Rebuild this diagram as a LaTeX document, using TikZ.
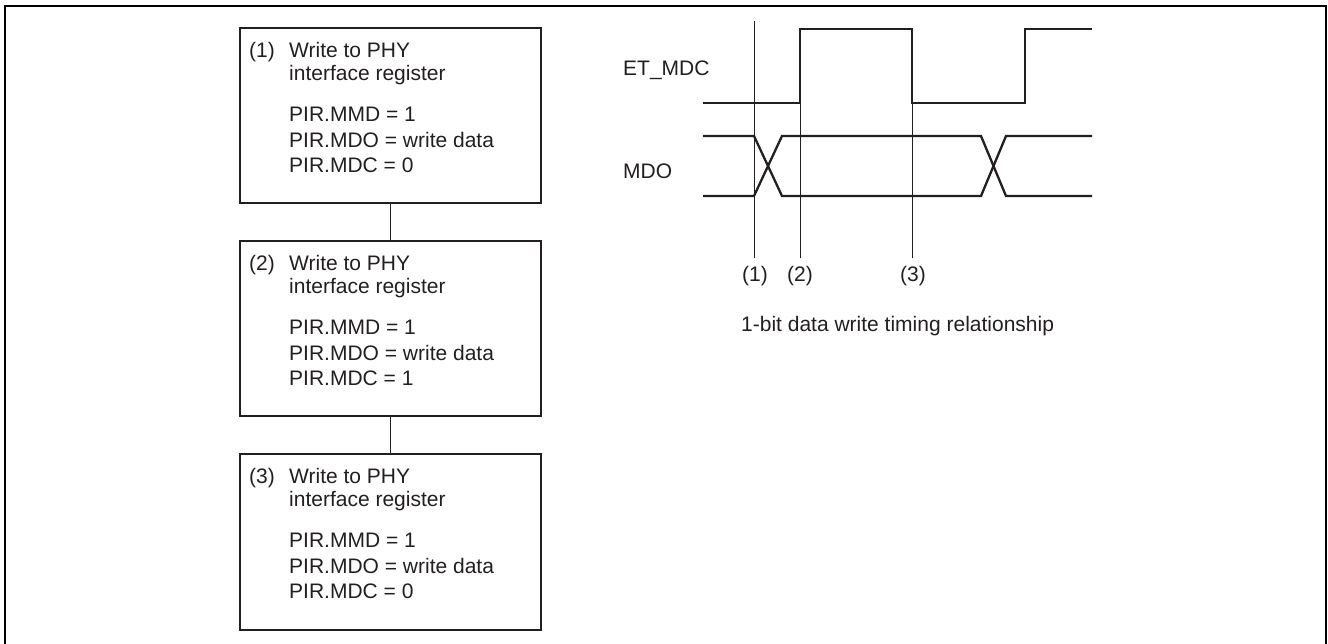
\documentclass[tikz,border=0pt]{standalone}
\usepackage{fontspec}
\setmainfont{Liberation Sans}
\definecolor{ink}{RGB}{35,31,32}
\tikzset{
  txt/.style={inner sep=0pt, anchor=base west, text=ink, font=\fontsize{21pt}{25pt}\selectfont},
  ctxt/.style={txt, anchor=base},
  stepbox/.style={draw=ink, line width=2.3pt, anchor=north west, minimum width=301pt, minimum height=175pt, inner sep=0pt},
  link/.style={draw=ink, line width=1pt},
  sig/.style={draw=ink, line width=2.3pt, line join=miter},
  guide/.style={draw=ink, line width=1pt},
  frame/.style={draw=black, line width=2pt}
}
\newcommand{\boxtext}[3]{%
  \node[txt] (n#1) at (249,#2+30) {(#1)};
  \node[txt] (w#1) at (289,#2+30) {Write to PHY};
  \node[txt] (i#1) at (289,#2+53) {interface register};
  \node[txt] (m#1) at (289,#2+94) {PIR.MMD = 1};
  \node[txt] (o#1) at (289,#2+120) {PIR.MDO = write data};
  \node[txt] (c#1) at (289,#2+145) {PIR.MDC = #3};
}
\begin{document}
\begin{tikzpicture}[x=1pt,y=-1pt]
\useasboundingbox (0,0) rectangle (1328,643);
% frame (open at the bottom)
\draw[frame] (5,660) -- (5,6) -- (1326,6) -- (1326,660);
% step boxes
\node[stepbox] (b1) at (239,27) {};
\node[stepbox] (b2) at (239,240) {};
\node[stepbox, minimum height=176pt] (b3) at (239,453) {};
\draw[link] (b1.south) -- (b2.north);
\draw[link] (b2.south) -- (b3.north);
\boxtext{1}{27}{0}
\boxtext{2}{240}{1}
\boxtext{3}{453}{0}
% timing diagram
\node[txt] (lmdc) at (623,75) {ET\_MDC};
\node[txt] (lmdo) at (623,178) {MDO};
\coordinate (g1t) at (754,21);
\coordinate (g1b) at (754,258);
\coordinate (g2t) at (800,103);
\coordinate (g2b) at (800,258);
\coordinate (g3t) at (912,29);
\coordinate (g3b) at (912,258);
\draw[guide] (g1t) -- (g1b);
\draw[guide] (g2t) -- (g2b);
\draw[guide] (g3t) -- (g3b);
\draw[sig] (703,103) -- (800,103) -- (800,29) -- (912,29) -- (912,103) -- (1025,103) -- (1025,29) -- (1092,29);
\draw[sig] (703,136) -- (754,136) -- (782,196) -- (981,196) -- (1006,136) -- (1092,136);
\draw[sig] (703,196) -- (754,196) -- (782,136) -- (981,136) -- (1006,196) -- (1092,196);
\node[ctxt] (t1) at (755,281) {(1)};
\node[ctxt] (t2) at (800,281) {(2)};
\node[ctxt] (t3) at (913,281) {(3)};
\node[txt] (cap) at (741,331) {1-bit data write timing relationship};
\end{tikzpicture}
\end{document}
